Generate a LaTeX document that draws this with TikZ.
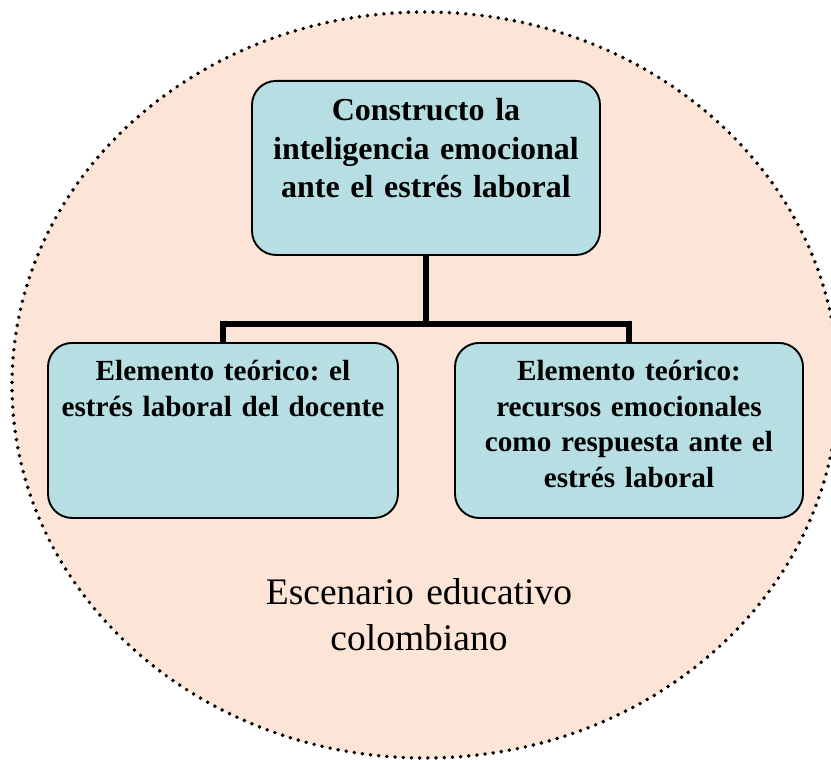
\documentclass[tikz,border=0pt]{standalone}
\usepackage{fontspec}
\setmainfont{Liberation Serif}
\definecolor{bgpeach}{HTML}{FCE4D6}
\definecolor{boxblue}{HTML}{B7DFE3}
\begin{document}
\frenchspacing
\begin{tikzpicture}[x=1pt,y=-1pt,
  boxbase/.style={draw=black, line width=1.9pt, fill=boxblue, rounded corners=24pt,
    inner sep=0pt, anchor=north, align=center},
  topbox/.style={boxbase, text width=348pt, text height=40pt, text depth=134pt,
    font=\frenchspacing\bfseries\fontsize{32}{38.5}\selectfont},
  subbox/.style={boxbase, text height=38pt, text depth=137pt,
    font=\frenchspacing\bfseries\fontsize{29.2}{35.5}\selectfont},
  conn/.style={line width=5.5pt, line join=miter, draw=black},
  scenario/.style={dash pattern=on 0pt off 8.2pt, line cap=round, line width=3.9pt, draw=black}
]
\useasboundingbox (0,0) rectangle (831,760);
\clip (0,0) rectangle (831,760);
\fill[bgpeach] (425,385) ellipse [x radius=413, y radius=373];
\draw[scenario] (425,385) ellipse [x radius=413, y radius=373];

\node[topbox] (top) at (426,80) {Constructo la\\inteligencia emocional\\ante el estrés laboral};
\node[subbox, text width=350pt] (left) at (223,342) {Elemento teórico: el\\estrés laboral del docente};
\node[subbox, text width=348pt] (right) at (629,342) {Elemento teórico:\\recursos emocionales\\como respuesta ante el\\estrés laboral};

\coordinate (bus) at (426,324);
\draw[conn] (top.south) -- (bus);
\draw[conn] (left.north) |- (bus) -| (right.north);

\node[anchor=base, inner sep=0pt, text width=360pt, align=center,
  font=\fontsize{37.5}{46.5}\selectfont] (scen) at (419,604)
  {Escenario educativo\\colombiano};
\end{tikzpicture}
\end{document}
